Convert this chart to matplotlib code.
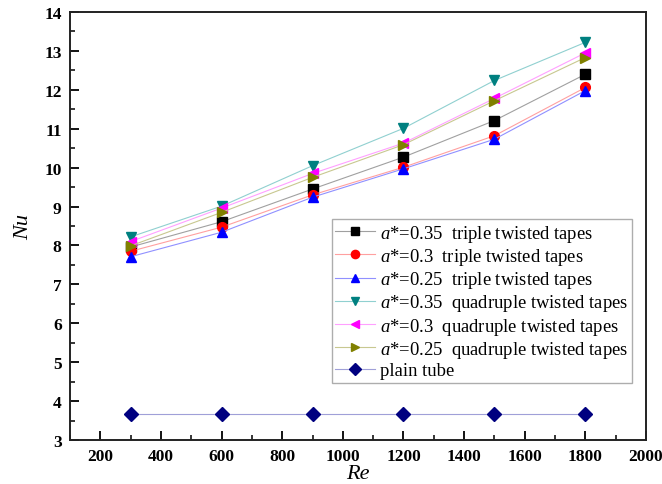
import matplotlib
matplotlib.use("Agg")
import matplotlib.pyplot as plt
from matplotlib.ticker import MultipleLocator

plt.rcParams["font.family"] = ["Liberation Serif", "DejaVu Serif"]
plt.rcParams["mathtext.fontset"] = "custom"
plt.rcParams["mathtext.rm"] = "Liberation Serif"
plt.rcParams["mathtext.it"] = "Liberation Serif:italic"

re = [300, 600, 900, 1200, 1500, 1800]

nu_triple_035 = [7.96, 8.61, 9.45, 10.27, 11.21, 12.40]
nu_triple_030 = [7.85, 8.47, 9.30, 10.01, 10.82, 12.06]
nu_triple_025 = [7.71, 8.34, 9.24, 9.97, 10.73, 11.98]
nu_quad_035 = [8.22, 9.01, 10.05, 11.01, 12.24, 13.22]
nu_quad_030 = [8.10, 8.96, 9.85, 10.63, 11.78, 12.95]
nu_quad_025 = [7.99, 8.85, 9.75, 10.59, 11.72, 12.83]
nu_plain = [3.66, 3.66, 3.66, 3.66, 3.66, 3.66]

labels = [
    r"$a$*=0.35  triple twisted tapes",
    r"$a$*=0.3  triple twisted tapes",
    r"$a$*=0.25  triple twisted tapes",
    r"$a$*=0.35  quadruple twisted tapes",
    r"$a$*=0.3  quadruple twisted tapes",
    r"$a$*=0.25  quadruple twisted tapes",
    "plain tube",
]

series = [nu_triple_035, nu_triple_030, nu_triple_025,
          nu_quad_035, nu_quad_030, nu_quad_025, nu_plain]
marker_colors = ["#000000", "#ff0000", "#0000ff", "#008080", "#ff00ff", "#808000", "#000080"]
line_colors = ["#a0a0a0", "#ffa0a0", "#9090ff", "#90d0d0", "#ffa0ff", "#c8c890", "#a0a0d8"]
markers = ["s", "o", "^", "v", "<", ">", "D"]
sizes = [6.5, 7, 7.5, 7.5, 7.5, 7.5, 7]

fig = plt.figure(figsize=(6.62, 4.85), dpi=100)
ax = fig.add_axes([70 / 662, 1 - 441 / 485, 576 / 662, 428 / 485])

for y, lab, mc, lc, m, ms in zip(series, labels, marker_colors, line_colors, markers, sizes):
    ax.plot(re, y, color=lc, lw=0.8, marker=m, markersize=ms,
            markerfacecolor=mc, markeredgecolor=mc, label=lab)

ax.set_xlim(100, 2000)
ax.set_ylim(3, 14)
ax.xaxis.set_major_locator(MultipleLocator(200))
ax.xaxis.set_minor_locator(MultipleLocator(100))
ax.yaxis.set_major_locator(MultipleLocator(1))
ax.yaxis.set_minor_locator(MultipleLocator(0.5))
ax.tick_params(which="both", direction="in", top=False, right=False, labelsize=12.5)
ax.tick_params(which="major", length=6.5, width=1.3, pad=6)
ax.tick_params(which="minor", length=3.6, width=1.1)
for t in ax.get_xticklabels() + ax.get_yticklabels():
    t.set_fontweight("bold")
for s in ax.spines.values():
    s.set_linewidth(1.4)
    s.set_color("#222222")

ax.set_xlabel("Re", fontsize=16, style="italic", labelpad=0)
ax.set_ylabel("Nu", fontsize=16, style="italic", labelpad=8)

leg = ax.legend(loc="upper right", bbox_to_anchor=((632 - 70) / 576, (441 - 220) / 428),
                fontsize=13.4, frameon=True, fancybox=False, borderpad=0.2,
                labelspacing=0.12, handlelength=2.1, handletextpad=0.3,
                borderaxespad=0, markerscale=0.85)
leg.get_frame().set_edgecolor("#999999")
leg.get_frame().set_linewidth(1.0)

fig.savefig("out.png", dpi=100)
